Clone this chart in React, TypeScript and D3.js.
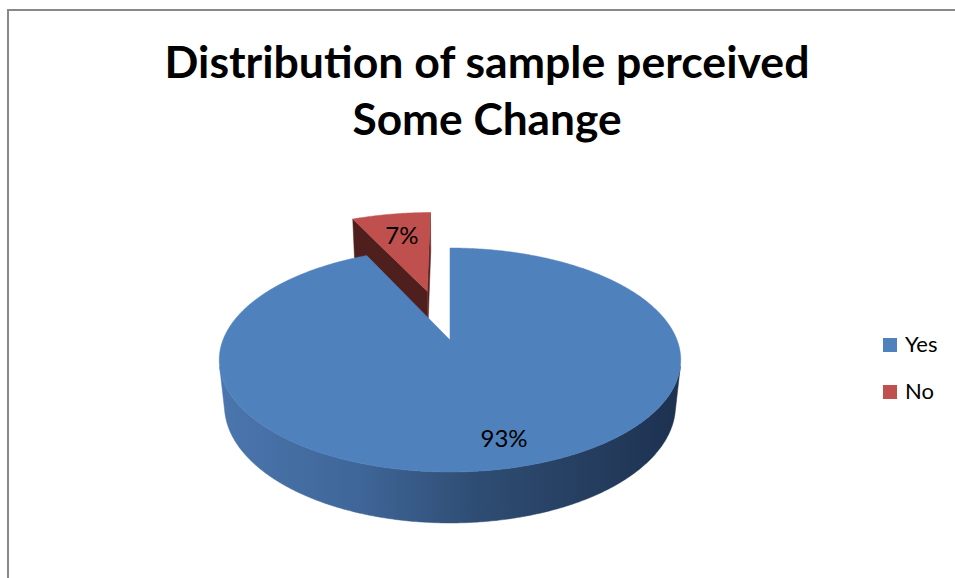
import React from 'react';
import * as d3 from 'd3';

const categories = ['Yes', 'No'];
const values = [93, 7];
const valueLabels = ['93%', '7%'];
const colors = ['#4f81bd', '#c0504d'];
const wallColors = ['#2f4c72', '#4f1f1e'];
const titleLines = ['Distribution of sample perceived', 'Some Change'];

const W = 955;
const H = 578;
const CX = 450;
const CY = 340;
const F = 1117;
const DIST = 4.92;
const SIN_E = 0.4775;
const COS_E = 0.8786;
const DEPTH = 0.2305;
const EXPLODE = [0, 0.5];
const LABEL_R = [0.8, 0.7];
const LABEL_DX = [8, 1];
const CAM: [number, number, number] = [0, DIST * SIN_E, -DIST * COS_E];

function proj(X: number, Y: number, Z: number): [number, number] {
  const yc = Z * SIN_E + Y * COS_E;
  const zc = DIST + Z * COS_E - Y * SIN_E;
  return [CX + (F * X) / zc, CY - (F * yc) / zc];
}

function pathFrom(pts: [number, number][]) {
  return 'M' + pts.map((p) => p[0].toFixed(2) + ',' + p[1].toFixed(2)).join('L') + 'Z';
}

export default function App() {
  const arcs = d3
    .pie<number>()
    .sort(null)
    .startAngle(0)
    .endAngle(2 * Math.PI)(values);

  const slices = arcs.map((a, i) => {
    const mid = (a.startAngle + a.endAngle) / 2;
    const k = EXPLODE[i];
    const ox = k * Math.sin(mid);
    const oz = k * Math.cos(mid);
    const steps = Math.max(4, Math.ceil(((a.endAngle - a.startAngle) * 180) / Math.PI / 0.5));
    const thetas = d3.range(steps + 1).map((j) => a.startAngle + ((a.endAngle - a.startAngle) * j) / steps);
    const top: [number, number][] = [proj(ox, 0, oz), ...thetas.map((t) => proj(ox + Math.sin(t), 0, oz + Math.cos(t)))];

    const vis = (t: number) => -ox * Math.sin(t) - oz * Math.cos(t) - 1 - DIST * COS_E * Math.cos(t) > 0;
    const runs: number[][] = [];
    let cur: number[] = [];
    thetas.forEach((t) => {
      if (vis(t)) cur.push(t);
      else if (cur.length) {
        runs.push(cur);
        cur = [];
      }
    });
    if (cur.length) runs.push(cur);
    const walls = runs
      .filter((r) => r.length > 1)
      .map((r) => {
        const tp = r.map((t) => proj(ox + Math.sin(t), 0, oz + Math.cos(t)));
        const bt = r.map((t) => proj(ox + Math.sin(t), -DEPTH, oz + Math.cos(t))).reverse();
        return pathFrom([...tp, ...bt]);
      });

    const radial: { d: string; fill: string }[] = [];
    const P = [ox, 0, oz];
    const toCam = [CAM[0] - P[0], CAM[1] - P[1], CAM[2] - P[2]];
    const edges = [
      { t: a.startAngle, n: [-Math.cos(a.startAngle), 0, Math.sin(a.startAngle)], fill: wallColors[i] },
      { t: a.endAngle, n: [Math.cos(a.endAngle), 0, -Math.sin(a.endAngle)], fill: d3.color(wallColors[i])!.brighter(0.4).toString() },
    ];
    edges.forEach((e) => {
      const dot = e.n[0] * toCam[0] + e.n[2] * toCam[2];
      if (dot > 1e-6) {
        radial.push({
          d: pathFrom([
            proj(ox, 0, oz),
            proj(ox + Math.sin(e.t), 0, oz + Math.cos(e.t)),
            proj(ox + Math.sin(e.t), -DEPTH, oz + Math.cos(e.t)),
            proj(ox, -DEPTH, oz),
          ]),
          fill: e.fill,
        });
      }
    });

    const lr = LABEL_R[i];
    const label = proj(ox + lr * Math.sin(mid), 0, oz + lr * Math.cos(mid));
    return { i, oz, top: pathFrom(top), walls, radial, label };
  });

  const order = [...slices].sort((a, b) => b.oz - a.oz);

  return (
    <div style={{ position: 'absolute', left: 0, top: 0 }}>
      <svg width={W} height={H} viewBox={`0 0 ${W} ${H}`} style={{ display: 'block', background: '#fff' }}>
        <defs>
          <linearGradient id="wallGrad" gradientUnits="userSpaceOnUse" x1={222} y1={0} x2={682} y2={0}>
            <stop offset="0%" stopColor="#4a75ad" />
            <stop offset="30%" stopColor="#3f6698" />
            <stop offset="55%" stopColor="#2f4d73" />
            <stop offset="100%" stopColor="#1d3150" />
          </linearGradient>
          <linearGradient id="wallGradRed" gradientUnits="userSpaceOnUse" x1={222} y1={0} x2={682} y2={0}>
            <stop offset="0%" stopColor="#8a3634" />
            <stop offset="100%" stopColor="#4f1f1e" />
          </linearGradient>
        </defs>
        <path d={`M8,${H} V10 H${W}`} fill="none" stroke="#898989" strokeWidth={2} />
        {titleLines.map((t, j) => (
          <text
            key={t}
            x={487}
            y={78 + j * 57}
            textAnchor="middle"
            fontFamily="Lato, 'Open Sans', sans-serif"
            fontWeight="bold"
            fontSize={44}
            textLength={j === 0 ? 645 : 269}
            lengthAdjust="spacingAndGlyphs"
            fill="#000"
          >
            {t}
          </text>
        ))}
        {order.map((s) => (
          <g key={categories[s.i]}>
            {s.walls.map((d, j) => (
              <path key={'w' + j} d={d} fill={s.i === 0 ? 'url(#wallGrad)' : 'url(#wallGradRed)'} stroke={s.i === 0 ? 'url(#wallGrad)' : 'url(#wallGradRed)'} strokeWidth={0.5} />
            ))}
            {s.radial.map((r, j) => (
              <path key={'r' + j} d={r.d} fill={r.fill} stroke={r.fill} strokeWidth={0.5} />
            ))}
            <path d={s.top} fill={colors[s.i]} stroke={colors[s.i]} strokeWidth={0.5} />
          </g>
        ))}
        {slices.map((s) => (
          <text
            key={'l' + s.i}
            x={s.label[0] + LABEL_DX[s.i]}
            y={s.label[1]}
            dy="0.36em"
            textAnchor="middle"
            fontFamily="Lato, 'Open Sans', sans-serif"
            fontSize={24}
            fill="#000"
          >
            {valueLabels[s.i]}
          </text>
        ))}
        {categories.map((c, i) => (
          <g key={'lg' + c} transform={`translate(883,${338 + i * 47})`}>
            <rect width={14} height={14} fill={colors[i]} />
            <text x={22} y={14} fontFamily="Lato, 'Open Sans', sans-serif" fontSize={22} fill="#000">
              {c}
            </text>
          </g>
        ))}
      </svg>
    </div>
  );
}
